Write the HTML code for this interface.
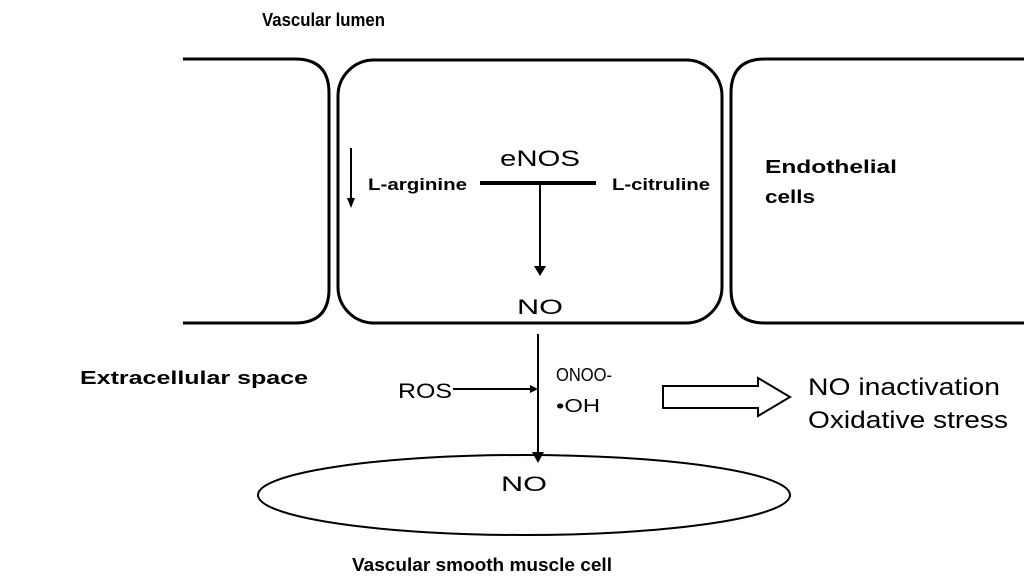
<!DOCTYPE html>
<html><head><meta charset="utf-8"><style>
html,body{margin:0;padding:0;background:#fff;}
svg{display:block;}
text{font-family:"Liberation Sans",Arial,sans-serif;fill:#000;}
.b{font-weight:bold;font-size:18px;}
</style></head><body>
<svg width="1024" height="585" viewBox="0 0 1024 585">
<g fill="none" stroke="#000" stroke-width="3">
<path d="M183 59 H295 Q329 59 329 93 V289 Q329 323 295 323 H183"/>
<rect x="338" y="60" width="384" height="263" rx="36" ry="36"/>
<path d="M1024 59 H765 Q731 59 731 93 V289 Q731 323 765 323 H1024"/>
<line x1="480" y1="183" x2="596" y2="183" stroke-width="4"/>
</g>
<g stroke="#000" stroke-width="2" fill="none">
<line x1="351" y1="148" x2="351" y2="200"/>
<line x1="540" y1="183" x2="540" y2="268"/>
<line x1="538" y1="334" x2="538" y2="455"/>
<line x1="453" y1="389" x2="530" y2="389"/>
<ellipse cx="524" cy="495" rx="266" ry="40"/>
<path d="M663 386 H758 V378 L790 397 L758 416 V408 H663 Z"/>
</g>
<g fill="#000">
<polygon points="347,198 355,198 351,208"/>
<polygon points="534,266 546,266 540,276"/>
<polygon points="532,452 544,452 538,463"/>
<polygon points="530,385 538,389 530,393"/>
</g>
<text class="b" x="262" y="26" textLength="123" lengthAdjust="spacingAndGlyphs">Vascular lumen</text>
<text class="b" x="765" y="173" textLength="132" lengthAdjust="spacingAndGlyphs">Endothelial</text>
<text class="b" x="765" y="203" textLength="50" lengthAdjust="spacingAndGlyphs">cells</text>
<text class="b" x="80" y="384" textLength="228" lengthAdjust="spacingAndGlyphs">Extracellular space</text>
<text class="b" x="352" y="571" textLength="260" lengthAdjust="spacingAndGlyphs">Vascular smooth muscle cell</text>
<text x="500" y="166" font-size="22" textLength="80" lengthAdjust="spacingAndGlyphs">eNOS</text>
<text x="368" y="190" font-size="17" font-weight="bold" textLength="99" lengthAdjust="spacingAndGlyphs">L-arginine</text>
<text x="612" y="190" font-size="17" font-weight="bold" textLength="98" lengthAdjust="spacingAndGlyphs">L-citruline</text>
<text x="517" y="314" font-size="21" textLength="46" lengthAdjust="spacingAndGlyphs">NO</text>
<text x="398" y="398" font-size="21" textLength="54" lengthAdjust="spacingAndGlyphs">ROS</text>
<text x="556" y="381" font-size="18" textLength="56" lengthAdjust="spacingAndGlyphs">ONOO-</text>
<text x="556" y="412" font-size="18" textLength="44" lengthAdjust="spacingAndGlyphs">•OH</text>
<text x="501" y="491" font-size="21" textLength="46" lengthAdjust="spacingAndGlyphs">NO</text>
<text x="808" y="395" font-size="24" textLength="192" lengthAdjust="spacingAndGlyphs">NO inactivation</text>
<text x="808" y="428" font-size="24" textLength="200" lengthAdjust="spacingAndGlyphs">Oxidative stress</text>
</svg>
</body></html>
